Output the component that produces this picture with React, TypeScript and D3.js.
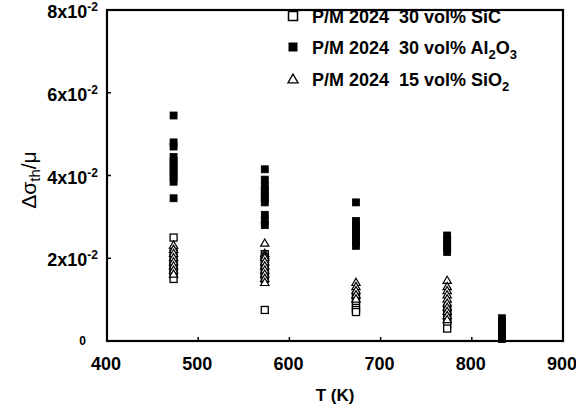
import React from "react";
import * as d3 from "d3";

const xTicks = [400, 500, 600, 700, 800, 900];
const yTicks = [0, 0.02, 0.04, 0.06, 0.08];
const yTickMant = ["0", "2", "4", "6", "8"];

const sicTemps = [473, 473, 473, 473, 473, 473, 473, 473, 573, 573, 573, 573, 573, 573, 573, 673, 673, 673, 673, 673, 673, 773, 773, 773, 773, 773, 773];
const sicValues = [0.025, 0.0215, 0.02, 0.019, 0.018, 0.017, 0.016, 0.015, 0.021, 0.019, 0.018, 0.017, 0.016, 0.015, 0.0075, 0.011, 0.01, 0.009, 0.008, 0.0075, 0.007, 0.008, 0.007, 0.006, 0.005, 0.004, 0.003];

const al2o3Temps = [473, 473, 473, 473, 473, 473, 473, 473, 473, 473, 473, 573, 573, 573, 573, 573, 573, 573, 573, 573, 573, 673, 673, 673, 673, 673, 673, 673, 673, 773, 773, 773, 773, 773, 833, 833, 833, 833, 833, 833];
const al2o3Values = [0.0545, 0.048, 0.047, 0.0445, 0.0435, 0.0425, 0.0415, 0.0405, 0.0395, 0.0385, 0.0345, 0.0415, 0.039, 0.0375, 0.0365, 0.0355, 0.0345, 0.0335, 0.0305, 0.029, 0.028, 0.0335, 0.029, 0.028, 0.027, 0.026, 0.025, 0.024, 0.023, 0.0255, 0.0245, 0.0235, 0.0225, 0.0215, 0.0055, 0.0045, 0.0035, 0.0025, 0.0015, 0.0005];

const sio2Temps = [473, 473, 473, 473, 473, 473, 473, 473, 573, 573, 573, 573, 573, 573, 573, 573, 573, 573, 673, 673, 673, 673, 673, 773, 773, 773, 773, 773, 773, 773, 773, 773, 773];
const sio2Values = [0.023, 0.022, 0.021, 0.02, 0.019, 0.018, 0.017, 0.016, 0.0235, 0.021, 0.0205, 0.02, 0.019, 0.018, 0.017, 0.016, 0.015, 0.014, 0.014, 0.013, 0.012, 0.011, 0.01, 0.0145, 0.013, 0.012, 0.011, 0.01, 0.009, 0.008, 0.007, 0.006, 0.005];

const W = 576, H = 406;
const left = 107, right = 563, top = 10, bottom = 341;
const font = "'Liberation Sans', Arial, sans-serif";

export default function App() {
  const x = d3.scaleLinear().domain([400, 900]).range([left, right]);
  const y = d3.scaleLinear().domain([0, 0.08]).range([bottom, top]);
  const s = 7;
  const tri = d3.symbol().type(d3.symbolTriangle).size(30)();
  const triL = d3.symbol().type(d3.symbolTriangle).size(45)();

  return (
    <svg width={W} height={H} style={{ position: "absolute", left: 0, top: 0, background: "#fff" }}>
      <rect x={0} y={0} width={W} height={H} fill="#fff" />
      {yTicks.slice(1, -1).map((t) => (
        <line key={"yt" + t} x1={left} x2={left + 4} y1={y(t)} y2={y(t)} stroke="#000" strokeWidth={1.5} />
      ))}
      {xTicks.slice(1, -1).map((t) => (
        <line key={"xt" + t} x1={x(t)} x2={x(t)} y1={bottom} y2={bottom - 4} stroke="#000" strokeWidth={1.5} />
      ))}
      {sicTemps.map((t, i) => (
        <rect key={"s" + i} x={x(t) - s / 2} y={y(sicValues[i]) - s / 2} width={s} height={s} fill="#fff" stroke="#000" strokeWidth={1.3} />
      ))}
      {sio2Temps.map((t, i) => (
        <path key={"t" + i} d={tri!} transform={`translate(${x(t)},${y(sio2Values[i])})`} fill="#fff" stroke="#000" strokeWidth={1.2} />
      ))}
      {al2o3Temps.map((t, i) => (
        <rect key={"a" + i} x={x(t) - s / 2} y={y(al2o3Values[i]) - s / 2} width={s} height={s} fill="#000" stroke="#000" strokeWidth={0.8} />
      ))}
      <rect x={left} y={top} width={right - left} height={bottom - top} fill="none" stroke="#000" strokeWidth={2.2} />
      {yTicks.map((t, i) =>
        t === 0 ? (
          <text key={"yl" + i} x={86} y={y(t) + 4} fontFamily={font} fontWeight="bold" fontSize={12} textAnchor="end">0</text>
        ) : (
          <text key={"yl" + i} x={98} y={y(t) + 8} fontFamily={font} fontWeight="bold" fontSize={18} textAnchor="end">
            {yTickMant[i]}x10<tspan dy={-7} fontSize={12}>-2</tspan>
          </text>
        )
      )}
      {xTicks.map((t) => (
        <text key={"xl" + t} x={x(t) - 1} y={370} fontFamily={font} fontWeight="bold" fontSize={18} textAnchor="middle">{t}</text>
      ))}
      <text x={335} y={401} fontFamily={font} fontWeight="bold" fontSize={17} textAnchor="middle">T (K)</text>
      <text transform={`translate(36,${180}) rotate(-90)`} fontFamily={font} fontSize={21} textAnchor="middle">
        Δσ<tspan dy={4} fontSize={15}>th</tspan><tspan dy={-4}>/μ</tspan>
      </text>
      <rect x={293 - 4.5} y={16 - 4.5} width={9} height={9} fill="#fff" stroke="#000" strokeWidth={1.5} />
      <rect x={293 - 4.5} y={47 - 4.5} width={9} height={9} fill="#000" />
      <path d={triL!} transform="translate(293,80)" fill="#fff" stroke="#000" strokeWidth={1.3} />
      <text x={312} y={23} fontFamily={font} fontWeight="bold" fontSize={18} xmlSpace="preserve">P/M 2024  30 vol% SiC</text>
      <text x={312} y={54} fontFamily={font} fontWeight="bold" fontSize={18} xmlSpace="preserve">
        P/M 2024  30 vol% Al<tspan dy={5} fontSize={13}>2</tspan><tspan dy={-5}>O</tspan><tspan dy={5} fontSize={13}>3</tspan>
      </text>
      <text x={312} y={86} fontFamily={font} fontWeight="bold" fontSize={18} xmlSpace="preserve">
        P/M 2024  15 vol% SiO<tspan dy={5} fontSize={13}>2</tspan>
      </text>
    </svg>
  );
}
